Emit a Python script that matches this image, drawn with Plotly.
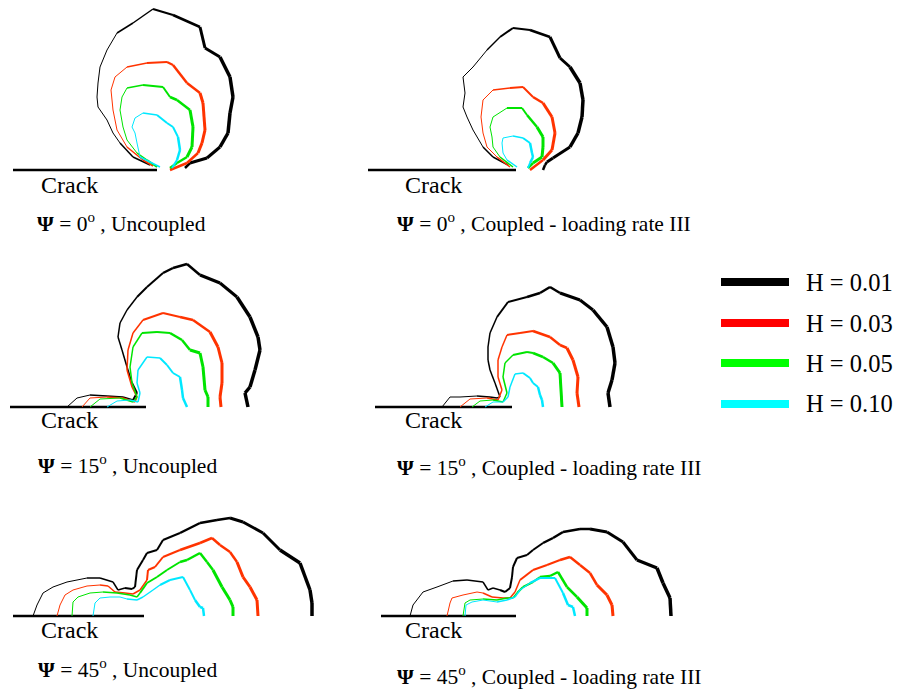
import plotly.graph_objects as go

FIG_W, FIG_H = 910, 689

# ---------------- data (local coords: x from crack tip, y height above crack) ----------
h_labels = ["H = 0.01", "H = 0.03", "H = 0.05", "H = 0.10"]

# Psi = 0, uncoupled
p1_x = [
    [-7, -24, -37, -44, -50, -59, -60, -59, -57, -50, -40, -24, -4, 16, 43, 48, 63, 73, 76, 73, 71, 63, 50, 33, 28],
    [-4, -14, -30, -40, -44, -46, -42, -30, -10, 10, 16, 30, 43, 46, 48, 45, 41, 30, 13],
    [0, -10, -20, -30, -34, -37, -35, -30, -14, 6, 13, 20, 33, 36, 35, 30, 20, 13],
    [3, -17, -20, -22, -25, -22, -14, 0, 10, 16, 21, 23, 20, 15],
]
p1_y = [
    [5, 13, 27, 37, 50, 63, 73, 87, 103, 120, 137, 147, 161, 155, 143, 122, 113, 93, 73, 57, 37, 23, 12, 7, 2],
    [4, 10, 23, 40, 60, 80, 93, 103, 107, 108, 105, 87, 77, 67, 40, 27, 17, 7, 0],
    [3, 10, 17, 30, 43, 60, 73, 82, 85, 83, 73, 70, 60, 43, 23, 13, 7, 2],
    [3, 13, 27, 37, 43, 52, 57, 55, 47, 43, 33, 20, 10, 2],
]
# Psi = 0, coupled
p2_x = [
    [-8, -23, -33, -43, -49, -53, -51, -53, -43, -29, -16, -3, 14, 34, 44, 54, 64, 67, 66, 62, 54, 37, 31, 29, 27],
    [-6, -19, -29, -33, -35, -33, -23, -6, 7, 17, 27, 36, 39, 36, 27, 14],
    [-3, -16, -23, -24, -26, -23, -9, 6, 11, 21, 27, 27, 26, 17, 12],
    [1, -9, -13, -14, -13, -3, 7, 14, 16, 17, 14, 12],
]
p2_y = [
    [5, 13, 23, 40, 53, 63, 77, 93, 103, 120, 133, 142, 140, 133, 112, 103, 87, 70, 53, 37, 23, 12, 8, 5, 0],
    [3, 13, 23, 37, 53, 70, 80, 82, 83, 73, 67, 53, 37, 20, 10, 0],
    [3, 13, 23, 33, 43, 53, 62, 62, 55, 43, 33, 23, 13, 7, 2],
    [3, 10, 17, 27, 32, 34, 32, 27, 17, 13, 7, 2],
]
# Psi = 15, uncoupled
p3_x = [
    [-79, -69, -56, -39, -23, -13, -9, -14, -19, -24, -28, -26, -19, -9, 1, 17, 27, 41, 54, 74, 91, 104, 112, 114, 109, 104, 99, 102],
    [-64, -56, -39, -23, -11, -9, -14, -19, -18, -13, -3, 17, 34, 47, 64, 72, 76, 76, 74, 75],
    [-56, -46, -26, -13, -9, -14, -16, -13, -4, 11, 24, 36, 44, 54, 57, 59, 62, 62],
    [-39, -29, -16, -8, -6, -9, -8, 1, 14, 21, 27, 34, 36, 37, 41],
]
p3_y = [
    [0, 9, 12, 11, 10, 7, 14, 24, 40, 57, 70, 84, 97, 110, 120, 134, 139, 143, 132, 124, 110, 90, 70, 57, 37, 20, 14, 0],
    [0, 9, 10, 9, 5, 10, 20, 37, 57, 74, 87, 94, 90, 87, 75, 60, 44, 24, 10, 0],
    [0, 8, 9, 5, 10, 24, 40, 60, 74, 75, 74, 67, 57, 54, 40, 17, 10, 0],
    [0, 6, 7, 5, 14, 24, 37, 50, 49, 42, 34, 30, 17, 9, 0],
]
# Psi = 15, coupled
p4_x = [
    [-70, -62, -52, -35, -22, -15, -12, -17, -22, -24, -24, -22, -15, -4, 15, 28, 38, 48, 68, 81, 95, 101, 103, 100, 96, 98],
    [-52, -42, -25, -14, -10, -14, -14, -10, -5, 8, 21, 38, 48, 55, 61, 66, 65, 67],
    [-40, -32, -19, -9, -5, -9, -7, 1, 15, 21, 31, 41, 48, 49, 50],
    [-27, -19, -9, -4, -2, 3, 11, 18, 21, 26, 28, 30, 31],
]
p4_y = [
    [0, 10, 10, 11, 10, 9, 10, 24, 37, 47, 60, 74, 90, 105, 110, 114, 120, 114, 107, 97, 80, 60, 44, 27, 14, 0],
    [0, 8, 9, 7, 17, 30, 47, 60, 72, 74, 76, 70, 62, 59, 47, 30, 14, 0],
    [0, 6, 7, 5, 14, 30, 44, 52, 55, 54, 50, 44, 34, 17, 0],
    [0, 5, 5, 10, 20, 33, 34, 29, 24, 20, 12, 7, 0],
]
# Psi = 45, uncoupled
p5_x = [
    [-111, -107, -101, -91, -77, -57, -44, -31, -26, -19, -12, -9, -7, -1, 3, 13, 19, 36, 56, 73, 86, 99, 119, 136, 156, 166, 168, 168],
    [-87, -84, -79, -71, -57, -44, -36, -29, -19, -11, -4, 3, 4, 11, 19, 36, 56, 68, 76, 86, 93, 99, 106, 113, 114],
    [-72, -71, -66, -54, -41, -27, -14, -7, -4, 3, 13, 23, 36, 43, 56, 63, 69, 78, 86, 89, 89],
    [-51, -49, -44, -34, -24, -17, -7, -1, 9, 16, 26, 39, 46, 51, 56, 59, 60],
]
p5_y = [
    [0, 11, 23, 29, 34, 38, 38, 34, 26, 28, 27, 29, 46, 56, 63, 66, 76, 83, 93, 96, 98, 94, 83, 66, 53, 26, 13, 0],
    [0, 11, 21, 26, 30, 31, 30, 24, 23, 22, 26, 36, 46, 49, 59, 66, 73, 78, 71, 64, 54, 39, 29, 16, 0],
    [0, 14, 19, 23, 24, 23, 21, 19, 23, 33, 39, 46, 54, 56, 63, 54, 46, 29, 16, 9, 0],
    [0, 13, 18, 19, 19, 17, 16, 19, 26, 31, 36, 39, 26, 16, 9, 8, 0],
]
# Psi = 45, coupled
p6_x = [
    [-106, -103, -93, -79, -63, -49, -33, -28, -23, -16, -11, -6, -4, -3, 1, 11, 17, 27, 37, 47, 64, 74, 91, 107, 121, 141, 147, 154, 155],
    [-69, -66, -64, -53, -39, -33, -24, -13, -6, -1, 4, 17, 31, 44, 54, 64, 74, 81, 91, 96, 97],
    [-53, -51, -46, -33, -19, -9, -3, 1, 7, 17, 24, 34, 42, 51, 61, 71, 71],
    [-51, -50, -44, -33, -19, -9, -1, 4, 14, 24, 34, 39, 47, 52, 57, 59],
]
p6_y = [
    [0, 11, 24, 29, 35, 36, 34, 26, 28, 26, 24, 28, 39, 49, 58, 61, 66, 73, 78, 84, 87, 87, 84, 74, 56, 48, 33, 18, 0],
    [0, 13, 18, 21, 24, 23, 19, 18, 18, 24, 36, 46, 51, 56, 59, 51, 43, 31, 21, 11, 0],
    [0, 13, 16, 17, 16, 18, 18, 23, 29, 34, 39, 40, 44, 29, 19, 8, 0],
    [0, 11, 14, 16, 14, 16, 19, 26, 33, 38, 38, 38, 23, 11, 9, 0],
]

psi_values = ["0", "0", "15", "15", "45", "45"]
case_labels = ["Uncoupled", "Coupled - loading rate III"] * 3
crack_lengths = [144, 148, 136, 137, 131, 135]

panels_x = [p1_x, p2_x, p3_x, p4_x, p5_x, p6_x]
panels_y = [p1_y, p2_y, p3_y, p4_y, p5_y, p6_y]

# ---------------- styling / layout --------------------------------------------------------
curve_colors = ["#000000", "#ff3300", "#00e400", "#00e8ff"]
legend_colors = ["#000000", "#ff0000", "#00ff00", "#00ffff"]
width_ranges = [(0.8, 3.6), (0.8, 3.0), (0.8, 3.0), (0.8, 2.4)]
FONT = "Liberation Serif, Times New Roman, serif"

# crack-tip pixel positions and the pixel boxes for each panel
tips = [(157, 170), (516, 170), (146, 407), (512, 407), (144, 616), (516, 616)]
boxes = [(0, 0, 355, 245), (360, 0, 715, 245), (0, 245, 355, 480),
         (360, 245, 715, 480), (0, 480, 355, 689), (360, 480, 715, 689)]
crack_label_pos = [(39, 185), (403, 185), (39, 420), (403, 420), (39, 630), (403, 630)]
caption_pos = [(35, 222), (395, 222), (36, 465), (395, 466), (36, 668), (395, 675)]

fig = go.Figure()
layout_axes = {}


def add_curve(xs, ys, color, xa, ya, w0, w1):
    xmin, xmax = min(xs), max(xs)
    bins = {}
    for i in range(len(xs) - 1):
        f = ((xs[i] + xs[i + 1]) / 2 - xmin) / (xmax - xmin)
        w = round((w0 + (w1 - w0) * f) * 2) / 2
        bx, by = bins.setdefault(w, ([], []))
        bx += [xs[i], xs[i + 1], None]
        by += [ys[i], ys[i + 1], None]
    for w, (bx, by) in sorted(bins.items()):
        fig.add_trace(go.Scatter(x=bx, y=by, mode="lines",
                                 line=dict(color=color, width=w),
                                 xaxis=xa, yaxis=ya, hoverinfo="skip",
                                 showlegend=False))


annotations = []
for k in range(6):
    n = k + 1
    xa = "x" if n == 1 else f"x{n}"
    ya = "y" if n == 1 else f"y{n}"
    tx, ty = tips[k]
    X0, Y0, X1, Y1 = boxes[k]
    layout_axes["xaxis" if n == 1 else f"xaxis{n}"] = dict(
        domain=[X0 / FIG_W, X1 / FIG_W], range=[X0 - tx, X1 - tx],
        visible=False, fixedrange=True, anchor=ya)
    layout_axes["yaxis" if n == 1 else f"yaxis{n}"] = dict(
        domain=[1 - Y1 / FIG_H, 1 - Y0 / FIG_H], range=[ty - Y1, ty - Y0],
        visible=False, fixedrange=True, anchor=xa)
    # crack
    fig.add_trace(go.Scatter(x=[-crack_lengths[k], 0], y=[0, 0], mode="lines",
                             line=dict(color="black", width=2.6),
                             xaxis=xa, yaxis=ya, hoverinfo="skip", showlegend=False))
    for j in range(4):
        w0, w1 = width_ranges[j]
        add_curve(panels_x[k][j], panels_y[k][j], curve_colors[j], xa, ya, w0, w1)
    cx, cy = crack_label_pos[k]
    annotations.append(dict(text="Crack", x=cx / FIG_W, y=1 - cy / FIG_H,
                            xref="paper", yref="paper", xanchor="left", yanchor="middle",
                            showarrow=False, font=dict(family=FONT, size=24, color="black")))
    px, py = caption_pos[k]
    annotations.append(dict(
        text=f"<b>\u03A8</b> = {psi_values[k]}<sup>o</sup> , {case_labels[k]}",
        x=px / FIG_W, y=1 - py / FIG_H, xref="paper", yref="paper",
        xanchor="left", yanchor="middle", showarrow=False,
        font=dict(family=FONT, size=21.5, color="black")))

# legend
legend_rows = [282, 323, 363, 404]
shapes = []
for j in range(4):
    yy = 1 - legend_rows[j] / FIG_H
    shapes.append(dict(type="line", xref="paper", yref="paper",
                       x0=721 / FIG_W, x1=789 / FIG_W, y0=yy, y1=yy,
                       line=dict(color=legend_colors[j], width=8)))
    annotations.append(dict(text=h_labels[j], x=804 / FIG_W, y=yy,
                            xref="paper", yref="paper", xanchor="left", yanchor="middle",
                            showarrow=False, font=dict(family=FONT, size=24.5, color="black")))

fig.update_layout(width=FIG_W, height=FIG_H, margin=dict(l=0, r=0, t=0, b=0),
                  paper_bgcolor="white", plot_bgcolor="rgba(0,0,0,0)",
                  showlegend=False, annotations=annotations, shapes=shapes,
                  **layout_axes)

fig.write_html("out.html", config={"displayModeBar": False},
               post_script="document.body.style.margin='0';document.body.style.overflow='hidden';")
